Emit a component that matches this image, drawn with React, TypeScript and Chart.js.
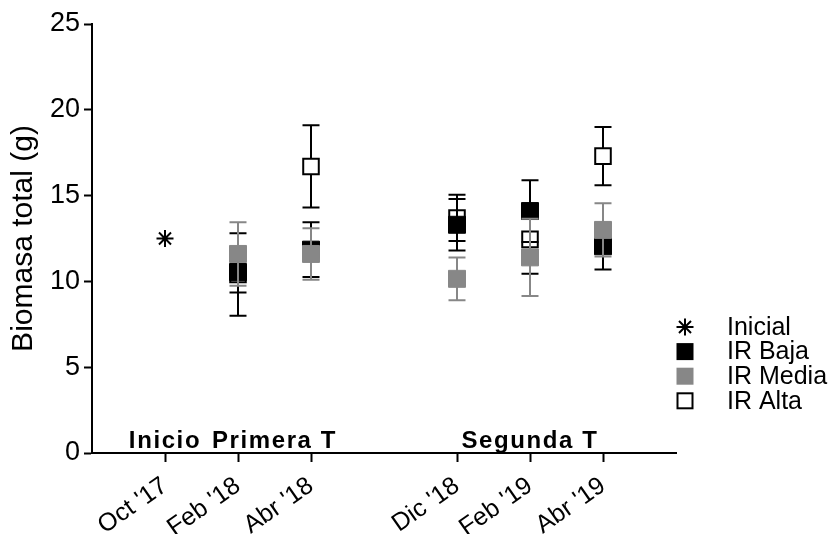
import React, { useEffect, useRef } from 'react';
import { Chart, registerables } from 'chart.js';

Chart.register(...registerables);

const FONT = '"Liberation Sans", Arial, Helvetica, sans-serif';

// Category slots along the x axis (empty strings are spacer slots without a tick)
const xLabels = ['', "Oct '17", "Feb '18", "Abr '18", '', "Dic '18", "Feb '19", "Abr '19", ''];

// Initial sampling
const inicialDate = "Oct '17";
const inicialValue = 12.5;

// Treatment samplings
const sampleDates = ["Feb '18", "Abr '18", "Dic '18", "Feb '19", "Abr '19"];
const bajaMean = [10.55, 11.85, 13.3, 14.1, 12.05];
const bajaErr = [1.2, 1.6, 1.5, 1.8, 1.35];
const mediaMean = [11.6, 11.6, 10.15, 11.4, 13.0];
const mediaErr = [1.85, 1.5, 1.25, 2.25, 1.55];
const altaMean = [10.4, 16.7, 13.7, 12.45, 17.3];
const altaErr = [2.4, 2.4, 1.35, 2.0, 1.7];

// Axis
const yMin = 0;
const yMax = 25;
const yStep = 5;
const yTitle = 'Biomasa total (g)';

// Legend and period labels
const legendLabels = ['Inicial', 'IR Baja', 'IR Media', 'IR Alta'];
const groupLabels = ['Inicio', 'Primera T', 'Segunda T'];
const groupFrom = ["Oct '17", "Feb '18", "Dic '18"];
const groupTo = ["Oct '17", "Abr '18", "Abr '19"];

const GRAY = '#878787';

const errorSets: Record<string, { err: number[]; color: string }> = {
  'IR Baja': { err: bajaErr, color: '#000' },
  'IR Media': { err: mediaErr, color: GRAY },
  'IR Alta': { err: altaErr, color: '#000' },
};

const errorBarPlugin = {
  id: 'errorBars',
  beforeDatasetDraw(chart: any, args: any) {
    const ds = chart.data.datasets[args.index];
    const set = errorSets[ds.label];
    if (!set) return;
    const ctx = chart.ctx;
    const ys = chart.scales.y;
    ctx.save();
    ctx.strokeStyle = set.color;
    ctx.lineWidth = 2;
    args.meta.data.forEach((pt: any, i: number) => {
      const v = ds.data[i].y;
      const e = set.err[i];
      const px = pt.x;
      const top = ys.getPixelForValue(v + e);
      const bot = ys.getPixelForValue(v - e);
      ctx.beginPath();
      ctx.moveTo(px, top);
      ctx.lineTo(px, bot);
      ctx.moveTo(px - 8.5, top);
      ctx.lineTo(px + 8.5, top);
      ctx.moveTo(px - 8.5, bot);
      ctx.lineTo(px + 8.5, bot);
      ctx.stroke();
    });
    ctx.restore();
  },
};

function drawStar(ctx: CanvasRenderingContext2D, x: number, y: number, r: number) {
  ctx.beginPath();
  for (let k = 0; k < 4; k++) {
    const a = (k * Math.PI) / 4;
    ctx.moveTo(x - r * Math.cos(a), y - r * Math.sin(a));
    ctx.lineTo(x + r * Math.cos(a), y + r * Math.sin(a));
  }
  ctx.stroke();
}

const sideLegendPlugin = {
  id: 'sideLegend',
  afterDraw(chart: any) {
    const { ctx, chartArea } = chart;
    const sx = chartArea.right + 9;
    const tx = chartArea.right + 51;
    const y0 = chartArea.bottom - 126;
    const gap = 24.6;
    ctx.save();
    ctx.font = `25px ${FONT}`;
    ctx.textBaseline = 'middle';
    ctx.textAlign = 'left';
    legendLabels.forEach((label, i) => {
      const y = y0 + i * gap;
      ctx.lineWidth = 2;
      ctx.strokeStyle = '#000';
      if (i === 0) {
        drawStar(ctx, sx, y, 8.5);
      } else if (i === 1) {
        ctx.fillStyle = '#000';
        ctx.fillRect(sx - 8.5, y - 8.5, 17, 17);
      } else if (i === 2) {
        ctx.fillStyle = GRAY;
        ctx.fillRect(sx - 8.5, y - 8.5, 17, 17);
      } else {
        ctx.fillStyle = '#fff';
        ctx.fillRect(sx - 7.5, y - 7.5, 15, 15);
        ctx.strokeRect(sx - 7.5, y - 7.5, 15, 15);
      }
      ctx.fillStyle = '#000';
      ctx.fillText(label, tx, y + 1);
    });
    ctx.restore();
  },
};

const groupLabelPlugin = {
  id: 'groupLabels',
  afterDraw(chart: any) {
    const { ctx, chartArea } = chart;
    const xs = chart.scales.x;
    ctx.save();
    ctx.font = `bold 24px ${FONT}`;
    (ctx as any).letterSpacing = '1.6px';
    ctx.textAlign = 'center';
    ctx.textBaseline = 'alphabetic';
    ctx.fillStyle = '#000';
    groupLabels.forEach((label, i) => {
      const a = xs.getPixelForValue(xLabels.indexOf(groupFrom[i]));
      const b = xs.getPixelForValue(xLabels.indexOf(groupTo[i]));
      ctx.fillText(label, (a + b) / 2, chartArea.bottom - 5);
    });
    ctx.restore();
  },
};

function pointsOf(means: number[]) {
  return sampleDates.map((d, i) => ({ x: d, y: means[i] }));
}

export default function App() {
  const ref = useRef<HTMLCanvasElement | null>(null);

  useEffect(() => {
    document.body.style.margin = '0';
    const canvas = ref.current;
    if (!canvas) return;
    const chart = new Chart(canvas, {
      type: 'line',
      data: {
        labels: xLabels,
        datasets: [
          {
            label: 'Inicial',
            data: [{ x: inicialDate, y: inicialValue }],
            showLine: false,
            pointStyle: 'star',
            pointRadius: 8.5,
            pointBorderWidth: 2,
            pointBorderColor: '#000',
            pointBackgroundColor: '#000',
            order: 3,
          },
          {
            label: 'IR Alta',
            data: pointsOf(altaMean),
            showLine: false,
            pointStyle: 'rect',
            pointRadius: 11,
            pointBorderWidth: 2,
            pointBorderColor: '#000',
            pointBackgroundColor: '#fff',
            order: 2,
          },
          {
            label: 'IR Baja',
            data: pointsOf(bajaMean),
            showLine: false,
            pointStyle: 'rect',
            pointRadius: 12,
            pointBorderWidth: 1,
            pointBorderColor: '#000',
            pointBackgroundColor: '#000',
            order: 1,
          },
          {
            label: 'IR Media',
            data: pointsOf(mediaMean),
            showLine: false,
            pointStyle: 'rect',
            pointRadius: 12,
            pointBorderWidth: 1,
            pointBorderColor: GRAY,
            pointBackgroundColor: GRAY,
            order: 0,
          },
        ] as any,
      },
      options: {
        animation: false,
        responsive: false,
        devicePixelRatio: 1,
        layout: { padding: { top: 24, right: 154, left: 0, bottom: 0 } },
        plugins: {
          legend: { display: false },
          tooltip: { enabled: false },
        },
        scales: {
          x: {
            type: 'category',
            offset: false,
            grid: {
              drawOnChartArea: false,
              drawTicks: true,
              tickLength: 9,
              tickWidth: 2,
              tickColor: (c: any) => (xLabels[c.index] ? '#000' : 'rgba(0,0,0,0)'),
            },
            border: { display: true, color: '#000', width: 2 },
            ticks: {
              autoSkip: false,
              maxRotation: 35,
              minRotation: 35,
              color: '#000',
              padding: 9,
              font: { family: FONT, size: 25 },
            },
            afterFit: (s: any) => {
              s.height = 81;
            },
          },
          y: {
            min: yMin,
            max: yMax,
            grid: {
              drawOnChartArea: false,
              drawTicks: true,
              tickLength: 8,
              tickWidth: 2,
              tickColor: '#000',
            },
            border: { display: true, color: '#000', width: 2 },
            ticks: {
              stepSize: yStep,
              color: '#000',
              padding: 4,
              font: { family: FONT, size: 27 },
            },
            title: {
              display: true,
              text: yTitle,
              color: '#000',
              font: { family: FONT, size: 30 },
              padding: { top: 6, bottom: 0 },
            },
            afterFit: (s: any) => {
              s.width = 92;
            },
          },
        } as any,
      },
      plugins: [errorBarPlugin, sideLegendPlugin, groupLabelPlugin],
    });
    return () => chart.destroy();
  }, []);

  return (
    <div style={{ width: 830, height: 534 }}>
      <canvas ref={ref} width={830} height={534} />
    </div>
  );
}
